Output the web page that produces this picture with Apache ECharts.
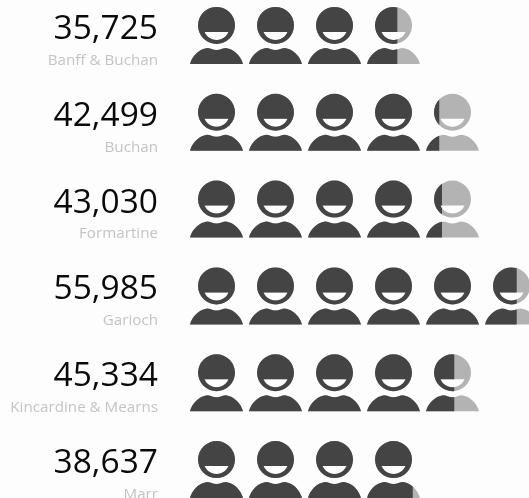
<!DOCTYPE html>
<html>
<head>
<meta charset="utf-8">
<style>
  html, body { margin: 0; padding: 0; background: #fdfdfd; }
  #chart { width: 529px; height: 498px; }
</style>
<script src="https://cdn.jsdelivr.net/npm/echarts@6/dist/echarts.min.js"></script>
</head>
<body>
<div id="chart"></div>
<script>
var areas = ["Banff & Buchan", "Buchan", "Formartine", "Garioch", "Kincardine & Mearns", "Marr"];
var population = [35725, 42499, 43030, 55985, 45334, 38637];
var perPerson = 10000;

// one person: head with a smile cut out, shoulders underneath
var personPath = "path://M26.5 0A18.5 18.5 0 1 1 26.5 37A18.5 18.5 0 1 1 26.5 0Z" +
  "M14.5 25A13 13 0 0 0 38.5 25Z" +
  "M0 57C2 49 9 42 17 41C20 41 23 43 26.5 43C30 43 33 41 36 41C44 42 51 49 53 57Z";
var personW = 53, personH = 57, pitch = 59;

var chart = echarts.init(document.getElementById("chart"));

// the icons have gaps, so the clip edge has to skip them to land inside the last person
function clipValue(v) {
  var units = v / perPerson;
  var whole = Math.floor(units);
  var part = units - whole;
  return (whole + (3 + part * personW) / pitch) * perPerson;
}

chart.setOption({
  animation: false,
  backgroundColor: "#fdfdfd",
  // last row runs off the page on purpose, so the grid is not fitted to the canvas
  grid: { left: 187, top: -8, width: 354, height: 521, outerBoundsMode: "none" },
  xAxis: { type: "value", min: 0, max: 60000, show: false },
  yAxis: {
    type: "category",
    inverse: true,
    data: areas,
    axisLine: { show: false },
    axisTick: { show: false },
    axisLabel: {
      margin: 29,
      align: "right",
      padding: [10, 0, 0, 0],
      formatter: function (name) {
        var v = population[areas.indexOf(name)];
        return "{num|" + v.toLocaleString("en-US") + "}\n{name|" + name + "}";
      },
      rich: {
        num: { fontFamily: "Open Sans", fontSize: 33.5, color: "#0a0a0a", align: "right", lineHeight: 40 },
        name: { fontFamily: "Open Sans", fontSize: 15.2, color: "#c4c4c4", align: "right", lineHeight: 22 }
      }
    }
  },
  series: [
    {
      type: "pictorialBar",
      symbol: personPath,
      symbolSize: [personW, personH],
      symbolPosition: "start",
      symbolRepeat: "fixed",
      symbolMargin: "3!",
      z: 1,
      itemStyle: { color: "#b3b3b3" },
      data: population.map(function (v) {
        var n = Math.ceil(v / perPerson);
        return { value: n * perPerson, symbolRepeat: n, symbolBoundingData: n * perPerson };
      })
    },
    {
      type: "pictorialBar",
      symbol: personPath,
      symbolSize: [personW, personH],
      symbolPosition: "start",
      symbolRepeat: "fixed",
      symbolMargin: "3!",
      symbolClip: true,
      z: 2,
      itemStyle: { color: "#444444" },
      data: population.map(function (v) {
        var n = Math.ceil(v / perPerson);
        return { value: clipValue(v), symbolRepeat: n, symbolBoundingData: n * perPerson };
      })
    }
  ]
});
</script>
</body>
</html>
